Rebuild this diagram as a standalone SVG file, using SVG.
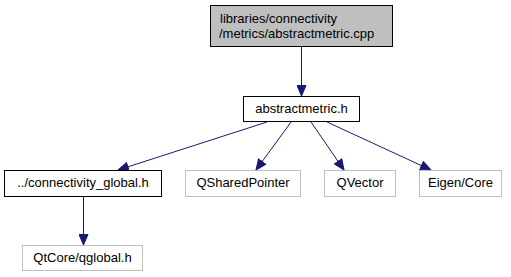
<svg xmlns="http://www.w3.org/2000/svg" width="511" height="277" viewBox="0 0 511 277">
  <style>
    .n rect { fill: #ffffff; stroke: #000000; stroke-width: 1; }
    .n.cur rect { fill: #bfbfbf; }
    .n.ext rect { stroke: #bfbfbf; }
    .n text { font-family: "Liberation Sans", Arial, sans-serif; font-size: 13px; fill: #000000; }
    .e { fill: none; stroke: #191970; stroke-width: 1; marker-end: url(#arr); }
  </style>
  <defs>
    <marker id="arr" markerWidth="12" markerHeight="10" refX="11" refY="5" orient="auto" markerUnits="userSpaceOnUse">
      <path d="M0.5,0.5 L11,5 L0.5,9.5 Z" fill="#191970" stroke="#191970" stroke-width="1"/>
    </marker>
  </defs>
  <rect width="511" height="277" fill="#ffffff"/>
  <g id="connectors">
    <line class="e" x1="301.5" y1="47" x2="301.5" y2="96"/>
    <line class="e" x1="267" y1="122" x2="118" y2="170"/>
    <line class="e" x1="291" y1="122" x2="256" y2="170"/>
    <line class="e" x1="311" y1="122" x2="344" y2="170"/>
    <line class="e" x1="327" y1="122" x2="431" y2="170"/>
    <line class="e" x1="83.5" y1="197" x2="83.5" y2="245"/>
  </g>
  <g id="node-abstractmetric-cpp" class="n cur">
    <rect x="210.5" y="5.5" width="182" height="41"/>
    <text x="220" y="23">libraries/connectivity</text>
    <text x="219" y="38">/metrics/abstractmetric.cpp</text>
  </g>
  <g id="node-abstractmetric-h" class="n">
    <rect x="243.5" y="96.5" width="116" height="25"/>
    <text x="301.5" y="113" text-anchor="middle">abstractmetric.h</text>
  </g>
  <g id="node-connectivity-global" class="n">
    <rect x="4.5" y="170.5" width="157" height="26"/>
    <text x="83" y="187" text-anchor="middle">../connectivity_global.h</text>
  </g>
  <g id="node-qsharedpointer" class="n ext">
    <rect x="185.5" y="170.5" width="115" height="26"/>
    <text x="243" y="187" text-anchor="middle">QSharedPointer</text>
  </g>
  <g id="node-qvector" class="n ext">
    <rect x="324.5" y="170.5" width="71" height="26"/>
    <text x="360" y="187" text-anchor="middle">QVector</text>
  </g>
  <g id="node-eigen-core" class="n ext">
    <rect x="419.5" y="170.5" width="82" height="26"/>
    <text x="460.5" y="187" text-anchor="middle">Eigen/Core</text>
  </g>
  <g id="node-qglobal" class="n ext">
    <rect x="22.5" y="245.5" width="120" height="25"/>
    <text x="82.5" y="262" text-anchor="middle">QtCore/qglobal.h</text>
  </g>
</svg>
